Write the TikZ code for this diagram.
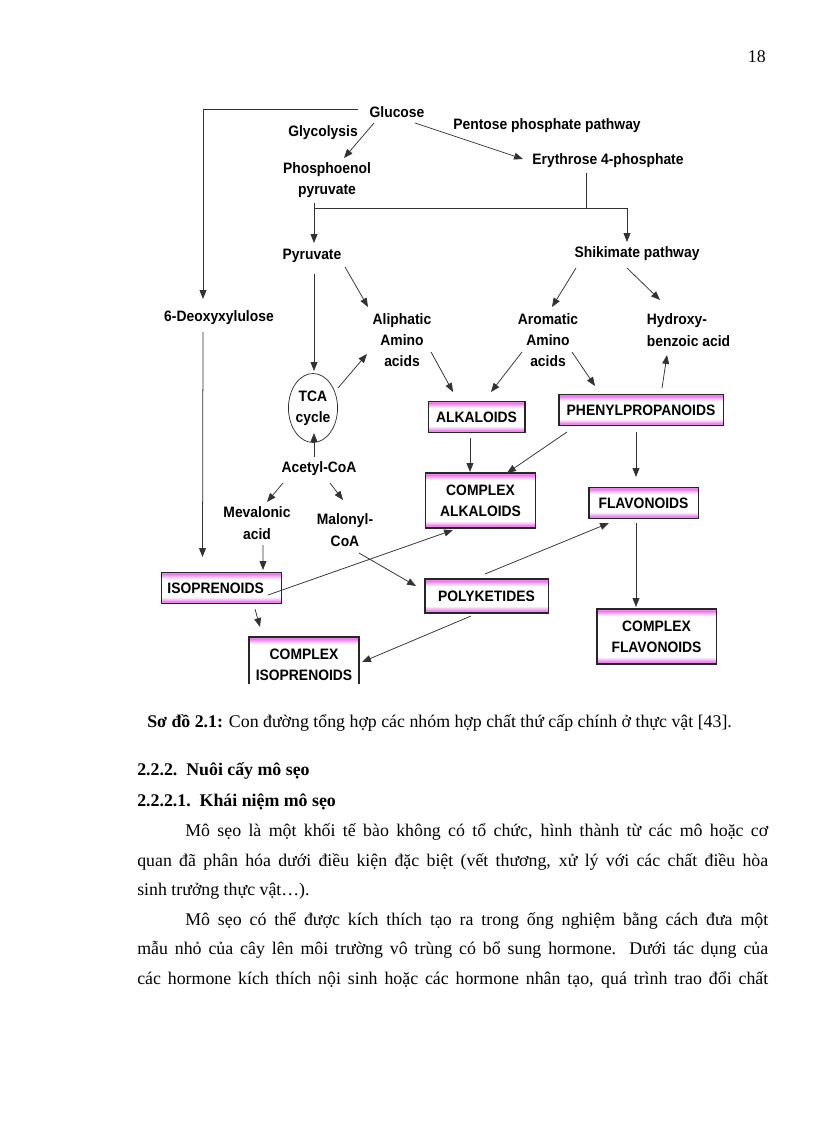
\documentclass[tikz,border=0pt]{standalone}
\usepackage{fontspec}
\setmainfont{Liberation Serif}
\newfontfamily\diagfont[FakeStretch=0.92]{Liberation Sans Bold}
\usetikzlibrary{arrows.meta,shapes.geometric,calc}
\definecolor{boxpink}{RGB}{238,135,238}
\definecolor{linegray}{RGB}{50,50,50}
\begin{document}
\begin{tikzpicture}[x=0.7292pt,y=-0.7292pt,
 lbl/.style={font=\diagfont\fontsize{11}{15.5}\selectfont, inner sep=0pt, align=center, text=black},
 pbox/.style={lbl, draw=black!85, line width=0.75pt, fill=white, path picture={
   \fill[boxpink] (path picture bounding box.north west) rectangle ($(path picture bounding box.north east)+(0,2.5)$);
   \shade[top color=boxpink,bottom color=white] ($(path picture bounding box.north west)+(0,2.5)$) rectangle ($(path picture bounding box.north east)+(0,7)$);
   \shade[top color=white,bottom color=boxpink] ($(path picture bounding box.south west)+(0,-7)$) rectangle ($(path picture bounding box.south east)+(0,-2.5)$);
   \fill[boxpink] ($(path picture bounding box.south west)+(0,-2.5)$) rectangle (path picture bounding box.south east);
 }},
 arr/.style={draw=linegray, line width=0.55pt, -{Triangle[length=6.5pt,width=5pt]}},
 ln/.style={draw=linegray, line width=0.55pt},
 body/.style={font=\fontsize{13}{15}\selectfont, inner sep=0pt, anchor=west}
]
\fill[white] (0,0) rectangle (816,1123);
\useasboundingbox (0,0) rectangle (816,1123);

% text nodes
\node[lbl] (glucose) at (397,112) {Glucose};
\node[lbl] (glycolysis) at (323,133) {Glycolysis};
\node[lbl] (pep) at (327,180) {Phosphoenol\\pyruvate};
\node[lbl] (pentose) at (547,126) {Pentose phosphate pathway};
\node[lbl] (ery) at (608,161) {Erythrose 4-phosphate};
\node[lbl] (pyr) at (312,256) {Pyruvate};
\node[lbl] (shik) at (637,254) {Shikimate pathway};
\node[lbl] (deoxy) at (219,318) {6-Deoxyxylulose};
\node[lbl] (aliph) at (402,340) {Aliphatic\\Amino\\acids};
\node[lbl] (arom) at (548,340) {Aromatic\\Amino\\acids};
\node[lbl, align=left] (hydroxy) at (688.5,330) {Hydroxy-\\benzoic acid};
\node[lbl, ellipse, draw=linegray, line width=0.55pt, minimum width=35.7pt, minimum height=50.3pt] (tca) at (313,408) {TCA\\cycle};
\node[lbl] (acetyl) at (319,469) {Acetyl-CoA};
\node[lbl] (meval) at (257,523) {Mevalonic\\acid};
\node[lbl] (malonyl) at (345,530) {Malonyl-\\CoA};

% boxes
\node[pbox, minimum width=70.7pt, minimum height=23.3pt] (alk) at (476.5,417) {ALKALOIDS};
\node[pbox, minimum width=119.6pt, minimum height=23.3pt] (phenyl) at (641,410) {PHENYLPROPANOIDS};
\node[pbox, minimum width=80.9pt, minimum height=40.1pt] (calk) at (480.5,500.5) {COMPLEX\\ALKALOIDS};
\node[pbox, minimum width=79.5pt, minimum height=23.3pt] (flav) at (643.5,503) {FLAVONOIDS};
\node[pbox, minimum width=86.8pt, minimum height=40.1pt] (cflav) at (656.5,636.5) {COMPLEX\\FLAVONOIDS};
\node[pbox, minimum width=89.7pt, minimum height=24.8pt] (poly) at (486.5,596) {POLYKETIDES};
\node[pbox, minimum width=88.2pt, minimum height=23.3pt] (iso) at (221.5,588) {ISOPRENOIDS\hspace*{8.5pt}};
\begin{scope}
\clip (0,0) rectangle (816,683);
\node[pbox, minimum width=80.2pt, minimum height=40.1pt] (ciso) at (304,664.5) {COMPLEX\\ISOPRENOIDS};
\end{scope}

% connectors
\draw[arr] ($(glucose)+(-39,-3)$) -| ($(deoxy)+(-16,-19)$);
\draw[arr] ($(glucose)+(-23,11)$) -- ($(pep)+(17,-22)$);
\draw[arr] ($(glucose)+(18,11)$) -- ($(ery)+(-85,-2)$);
\draw[arr] ($(pep)+(-13,23)$) -- ($(pyr)+(2,-13)$);
\draw[arr] ($(pep)+(-13,28)$) -| ($(shik)+(-10,-12)$);
\draw[ln] ($(ery)+(-22,12)$) -- ($(ery)+(-22,47)$);
\draw[arr] ($(pyr)+(2,18)$) -- ($(tca)+(1,-37)$);
\draw[arr] ($(pyr)+(33,11)$) -- ($(aliph)+(-34,-33)$);
\draw[arr] ($(deoxy)+(-16,14)$) -- ($(iso)+(-19,-31)$);
\draw[arr] ($(tca)+(25,-20)$) -- ($(aliph)+(-35,14)$);
\draw[arr] ($(acetyl)+(-5,-12)$) -- ($(tca)+(1,25)$);
\draw[arr] ($(shik)+(-61,14)$) -- ($(arom)+(4,-33)$);
\draw[arr] ($(shik)+(-10,14)$) -- ($(hydroxy)+(-28.5,-30)$);
\draw[arr] ($(aliph)+(29,12)$) -- ($(alk)+(-23.5,-25)$);
\draw[arr] ($(arom)+(-26,12)$) -- ($(alk)+(14.5,-25)$);
\draw[arr] ($(arom)+(24,12)$) -- ($(phenyl)+(-46,-24)$);
\draw[arr] ($(phenyl)+(21,-22)$) -- ($(hydroxy)+(-21.5,25)$);
\draw[arr] ($(alk)+(-6.5,21)$) -- ($(calk)+(-10.5,-28.5)$);
\draw[arr] ($(phenyl)+(-74,22)$) -- ($(calk)+(26.5,-27.5)$);
\draw[arr] ($(phenyl)+(-5,22)$) -- ($(flav)+(-7.5,-26)$);
\draw[arr] ($(flav)+(-7.5,20)$) -- ($(cflav)+(-20.5,-29.5)$);
\draw[arr] ($(poly)+(-1.5,-22)$) -- ($(flav)+(-34.5,20)$);
\draw[arr] ($(poly)+(-15.5,20)$) -- ($(ciso)+(58,-2.5)$);
\draw[arr] ($(iso)+(46.5,7)$) -- ($(calk)+(-27.5,29.5)$);
\draw[arr] ($(acetyl)+(-36,14)$) -- ($(meval)+(10,-21)$);
\draw[arr] ($(acetyl)+(11,14)$) -- ($(malonyl)+(-2,-30)$);
\draw[arr] ($(meval)+(6,22)$) -- ($(iso)+(41.5,-18)$);
\draw[arr] ($(malonyl)+(14,23)$) -- ($(poly)+(-70.5,-10)$);
\draw[arr] ($(iso)+(33.5,21)$) -- ($(ciso)+(-44,-37.5)$);

% page text
\node[body, anchor=east] (pnum) at (766,57) {18};
\node[body] (cap) at (147,723) {\textbf{Sơ đồ 2.1:} Con đường tổng hợp các nhóm hợp chất thứ cấp chính ở thực vật [43].};
\node[body] (h1) at (137,771) {\textbf{2.2.2.\ \ Nuôi cấy mô sẹo}};
\node[body] (h2) at (137,802) {\textbf{2.2.2.1.\ \ Khái niệm mô sẹo}};
\node[body] (l1) at (185,832) {\makebox[425.1pt][s]{Mô sẹo là một khối tế bào không có tổ chức, hình thành từ các mô hoặc cơ}};
\node[body] (l2) at (137,862) {\makebox[460.1pt][s]{quan đã phân hóa dưới điều kiện đặc biệt (vết thương, xử lý với các chất điều hòa}};
\node[body] (l3) at (137,891) {sinh trưởng thực vật…).};
\node[body] (l4) at (185,921) {\makebox[425.1pt][s]{Mô sẹo có thể được kích thích tạo ra trong ống nghiệm bằng cách đưa một}};
\node[body] (l5) at (137,950) {\makebox[460.1pt][s]{mẫu nhỏ của cây lên môi trường vô trùng có bổ sung hormone. Dưới tác dụng của}};
\node[body] (l6) at (137,980) {\makebox[460.1pt][s]{các hormone kích thích nội sinh hoặc các hormone nhân tạo, quá trình trao đổi chất}};
\end{tikzpicture}
\end{document}
